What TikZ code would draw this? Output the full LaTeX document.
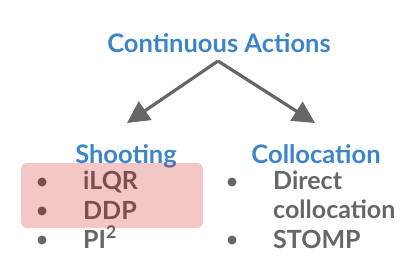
\documentclass[tikz,border=0pt]{standalone}
\usepackage{fontspec}
\setmainfont{Lato}
\usepackage{xcolor}
\usetikzlibrary{arrows.meta,positioning}
\definecolor{headblue}{HTML}{3D85C6}
\definecolor{itemgray}{HTML}{666666}
\definecolor{markred}{HTML}{CC0000}
\tikzset{
  head/.style={font=\fontsize{25.5}{28}\selectfont\bfseries, text=headblue, inner sep=0pt, anchor=base},
  item/.style={font=\fontsize{25}{28}\selectfont\bfseries, text=itemgray, inner sep=0pt, anchor=base west},
  dot/.style={circle, fill=itemgray, minimum size=9pt, inner sep=0pt},
  branch/.style={draw=itemgray, line width=3.2pt, -{Triangle[length=22pt, width=22pt]}}
}
\begin{document}
\begin{tikzpicture}[x=1pt, y=-1pt]
\useasboundingbox (0,0) rectangle (411,275);
\node[head] (cont) at (219,53) {Continuous Actions};
\coordinate (apex) at (218,61);
\coordinate (shootend) at (127,123);
\coordinate (collend) at (315,123);
\draw[branch] (apex) -- (shootend);
\draw[branch] (apex) -- (collend);
% left column
\node[head] (shoot) at (126,163) {Shooting};
\node[dot] (d1) at (42,182) {};
\node[dot] (d2) at (42,211) {};
\node[dot] (d3) at (42,240) {};
\node[item] (ilqr) at (83,189) {iLQR};
\node[item] (ddp) at (83,219) {DDP};
\node[item] (pi) at (83,248) {PI\textsuperscript{2}};
% right column
\node[head] (coll) at (316,163) {Collocation};
\node[dot] (d4) at (232,182) {};
\node[dot] (d5) at (232,240) {};
\node[item] (direct) at (273,189) {Direct};
\node[item] (colloc) at (273,218) {collocation};
\node[item] (stomp) at (273,248) {STOMP};
% highlight
\fill[markred, opacity=0.22, rounded corners=6pt] (21,163) rectangle (203,228);
\end{tikzpicture}
\end{document}
